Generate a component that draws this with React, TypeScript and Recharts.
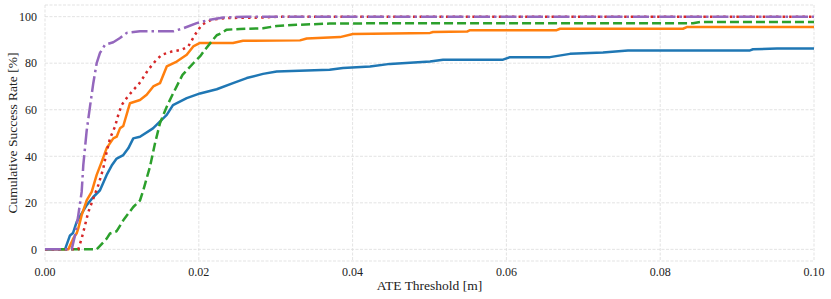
import React from 'react';
import { LineChart, Line, XAxis, YAxis, CartesianGrid } from 'recharts';

// threshold ticks and success-rate ticks
const xTicks = [0, 0.02, 0.04, 0.06, 0.08, 0.1];
const yTicks = [0, 20, 40, 60, 80, 100];

const blueX = [0, 0.0026, 0.00325, 0.00364, 0.00412, 0.00542, 0.00628, 0.00715, 0.00802, 0.00867, 0.00932, 0.01018, 0.01083, 0.01148, 0.01235, 0.01404, 0.01583, 0.01664, 0.01843, 0.02016, 0.02233, 0.02445, 0.02623, 0.02835, 0.03013, 0.037, 0.03875, 0.04226, 0.04486, 0.05007, 0.05176, 0.05956, 0.06047, 0.06567, 0.06827, 0.07256, 0.07581, 0.09168, 0.09207, 0.09519, 0.1];
const blueY = [0, 0, 6, 7, 11.8, 19, 22.5, 25.4, 32, 36, 39, 40.5, 43.4, 47.7, 48.4, 52, 57.8, 62, 65, 67, 68.8, 71.4, 73.6, 75.4, 76.4, 77.2, 77.9, 78.6, 79.7, 80.7, 81.5, 81.5, 82.6, 82.6, 84, 84.6, 85.5, 85.5, 86, 86.3, 86.3];

const orangeX = [0, 0.00303, 0.00368, 0.00412, 0.00433, 0.00477, 0.00542, 0.00607, 0.00672, 0.00737, 0.00802, 0.00888, 0.00932, 0.00975, 0.01018, 0.01105, 0.01235, 0.01322, 0.01408, 0.01495, 0.01583, 0.01713, 0.01843, 0.01928, 0.02016, 0.02445, 0.02575, 0.03316, 0.03403, 0.03836, 0.04005, 0.05007, 0.05046, 0.05488, 0.05527, 0.06654, 0.06697, 0.08296, 0.08345, 0.1];
const orangeY = [0, 0, 4.7, 6.9, 9, 14.7, 21, 24.7, 32, 37.6, 43.5, 47.7, 48.4, 52, 53, 62.8, 64.2, 66.4, 70, 71.4, 78.6, 80.7, 83.6, 87.2, 88.7, 88.7, 89.6, 89.8, 90.6, 91.2, 92.5, 93, 93.4, 93.6, 94.2, 94.2, 94.8, 94.8, 95.5, 95.5];

const greenX = [0, 0.00672, 0.00802, 0.00845, 0.00932, 0.01018, 0.01148, 0.01235, 0.01278, 0.01365, 0.0143, 0.01495, 0.01583, 0.01651, 0.01788, 0.01938, 0.02016, 0.02081, 0.02168, 0.02233, 0.02298, 0.02363, 0.02536, 0.02835, 0.03013, 0.03273, 0.037, 0.04573, 0.08427, 0.08518, 0.1];
const greenY = [0, 0, 4.6, 6.8, 7.8, 12.5, 18.2, 21, 25.4, 35.5, 45.5, 54.2, 61.3, 66, 75, 80.3, 82.9, 85.8, 89.4, 92, 93, 94.4, 94.7, 95, 96, 96.5, 97, 97.2, 97.2, 97.7, 97.7];

const redX = [0, 0.00433, 0.00477, 0.0052, 0.00563, 0.00628, 0.00693, 0.00758, 0.00802, 0.00845, 0.0091, 0.00953, 0.00997, 0.01062, 0.01148, 0.01213, 0.01257, 0.01343, 0.0143, 0.01518, 0.01648, 0.01778, 0.01863, 0.0195, 0.02038, 0.02168, 0.02341, 0.02796, 0.03056, 0.1];
const redY = [0, 0, 4.7, 10.3, 16, 21.8, 27.6, 34.8, 41.9, 47.7, 52.7, 57.8, 62, 65, 68.5, 70.7, 72.8, 77.2, 80.7, 83.6, 85, 85.8, 87.2, 92.2, 96.5, 98.7, 99.4, 99.6, 100, 100];

const purpleX = [0, 0.00347, 0.0039, 0.00433, 0.00477, 0.00498, 0.00542, 0.00585, 0.00628, 0.00672, 0.00715, 0.0078, 0.00888, 0.00975, 0.01062, 0.01235, 0.01668, 0.01798, 0.01973, 0.02146, 0.02319, 0.02623, 0.1];
const purpleY = [0, 0, 6, 14.7, 24.7, 36.2, 51, 61.3, 71.4, 80, 84.4, 87.9, 89, 90.8, 93, 93.7, 93.7, 95, 97.2, 98.7, 99.6, 100, 100];

const toPoints = (xs: number[], ys: number[]) => xs.map((x, i) => ({ x, y: ys[i] }));

const series = [
  { name: 'blue', data: toPoints(blueX, blueY), color: '#1f77b4', dash: undefined },
  { name: 'orange', data: toPoints(orangeX, orangeY), color: '#ff7f0e', dash: undefined },
  { name: 'green', data: toPoints(greenX, greenY), color: '#2ca02c', dash: '9 4' },
  { name: 'red', data: toPoints(redX, redY), color: '#d62728', dash: '2.5 4.1' },
  { name: 'purple', data: toPoints(purpleX, purpleY), color: '#9467bd', dash: '16 4 2.5 4' },
];

const font = '"Liberation Serif", "Times New Roman", serif';

export default function App() {
  return (
    <div style={{ position: 'absolute', left: 0, top: 0, fontFamily: font }}>
      <LineChart width={831} height={299} margin={{ top: 5, right: 17, bottom: 0, left: 0 }} style={{ fontFamily: font }}>
        <CartesianGrid stroke="#dcdcdc" strokeWidth={0.8} strokeDasharray="3 1.5" />
        <XAxis
          type="number"
          dataKey="x"
          domain={[0, 0.1]}
          ticks={xTicks}
          tickFormatter={(v: number) => v.toFixed(2)}
          axisLine={false}
          tickLine={false}
          tickSize={0}
          tickMargin={6}
          height={38}
          tick={{ fill: '#222', fontSize: 12, fontFamily: font }}
          label={{ value: 'ATE Threshold [m]', position: 'insideBottom', offset: 9, fill: '#222', fontSize: 13.5, style: { fontFamily: font } }}
          allowDataOverflow
        />
        <YAxis
          type="number"
          domain={[-5, 105]}
          ticks={yTicks}
          axisLine={false}
          tickLine={false}
          tickSize={0}
          tickMargin={8}
          width={45}
          tick={{ fill: '#222', fontSize: 12, fontFamily: font }}
          label={{
            value: 'Cumulative Success Rate [%]',
            angle: -90,
            position: 'insideLeft',
            offset: 12,
            fill: '#222',
            fontSize: 13.5,
            style: { textAnchor: 'middle', fontFamily: font },
          }}
          allowDataOverflow
        />
        {series.map((s) => (
          <Line
            key={s.name}
            data={s.data}
            dataKey="y"
            type="linear"
            stroke={s.color}
            strokeWidth={2.5}
            strokeDasharray={s.dash}
            strokeLinejoin="round"
            dot={false}
            activeDot={false}
            isAnimationActive={false}
          />
        ))}
      </LineChart>
    </div>
  );
}
